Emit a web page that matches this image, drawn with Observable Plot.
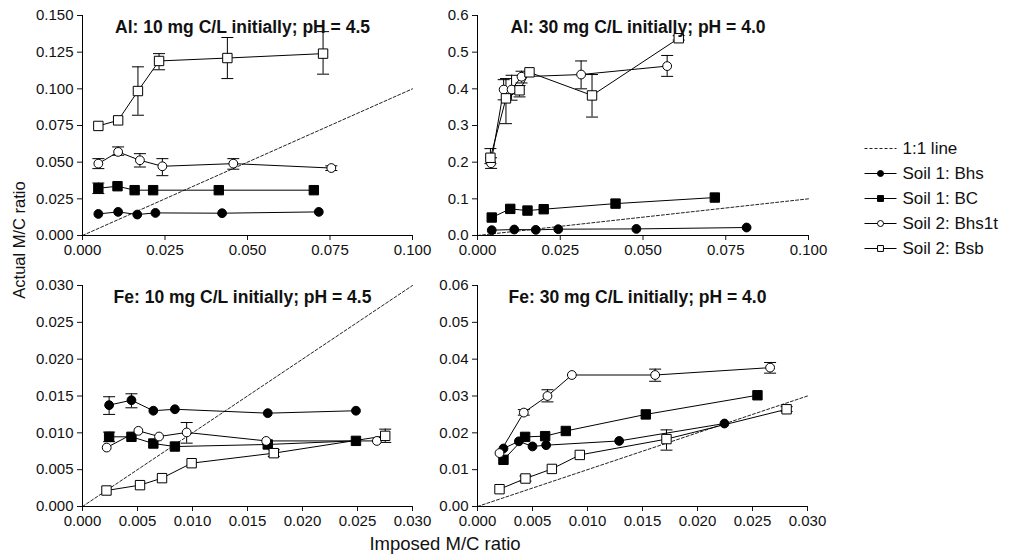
<!DOCTYPE html>
<html>
<head>
<meta charset="utf-8">
<script src="https://cdn.jsdelivr.net/npm/d3@7"></script>
<script src="https://cdn.jsdelivr.net/npm/@observablehq/plot@0.6"></script>
<style>
  body { margin: 0; background: white; }
  #root { position: relative; width: 1014px; height: 556px; font-family: "Liberation Sans", Arial, sans-serif; color: #111; }
  #root > svg { position: absolute; }
  .lab { position: absolute; white-space: nowrap; line-height: 1; }
</style>
</head>
<body>
<div id="root"></div>
<script>
// ---- Data: rows are [imposed M/C, actual M/C, error low, error high] ----
const seriesNames = ["Soil 1: Bhs", "Soil 1: BC", "Soil 2: Bhs1t", "Soil 2: Bsb"];
const seriesSymbols = ["circle", "square", "circle", "square"];
const seriesFills = ["black", "black", "white", "white"];
const legendLabels = ["1:1 line", ...seriesNames];

const titles = [
  "Al: 10 mg C/L initially; pH = 4.5",
  "Al: 30 mg C/L initially; pH = 4.0",
  "Fe: 10 mg C/L initially; pH = 4.5",
  "Fe: 30 mg C/L initially; pH = 4.0"
];

// Panel Al 10
const al10_bhs   = [[0.0048,0.0147],[0.0108,0.0161],[0.0166,0.0143],[0.0221,0.0154],[0.0423,0.0152],[0.0716,0.0161]];
const al10_bc    = [[0.0048,0.0322,0.0286,0.0358],[0.0106,0.0336],[0.0158,0.0309],[0.0214,0.0309],[0.0413,0.0309],[0.0701,0.0309]];
const al10_bhs1t = [[0.0048,0.049,0.0456,0.0524],[0.0108,0.057,0.0547,0.0604],[0.0174,0.0513,0.0467,0.0558],[0.0242,0.0472,0.0408,0.0524],[0.0457,0.049,0.0452,0.0524],[0.0754,0.046,0.0443,0.0475]];
const al10_bsb   = [[0.0048,0.0747],[0.0108,0.0785],[0.0168,0.0985,0.082,0.115],[0.0232,0.119,0.113,0.124],[0.0439,0.121,0.107,0.135],[0.0729,0.124,0.110,0.139]];

// Panel Al 30
const al30_bhs   = [[0.0043,0.0145],[0.0111,0.0163],[0.0176,0.0154],[0.0244,0.0172],[0.048,0.018],[0.0813,0.0218]];
const al30_bc    = [[0.0043,0.049],[0.0099,0.0726],[0.0151,0.068],[0.020,0.0717],[0.0417,0.087],[0.0717,0.1035]];
const al30_bhs1t = [[0.0041,0.197,0.183,0.212],[0.0079,0.398,0.370,0.425],[0.0103,0.398,0.369,0.437],[0.0133,0.433,0.416,0.448],[0.0313,0.439,0.400,0.476],[0.0573,0.462,0.434,0.491]];
const al30_bsb   = [[0.0039,0.212,0.196,0.237],[0.0086,0.374,0.305,0.428],[0.0127,0.396,0.378,0.409],[0.0157,0.445],[0.0346,0.382,0.323,0.439],[0.0608,0.538,0.533,0.545]];

// Panel Fe 10
const fe10_bhs   = [[0.00242,0.01376,0.0125,0.0149],[0.00445,0.01443,0.0134,0.0153],[0.00644,0.0130],[0.0084,0.0132],[0.01684,0.01267],[0.02486,0.0130]];
const fe10_bc    = [[0.00242,0.00946,0.0088,0.0101],[0.00445,0.00946],[0.00644,0.00855],[0.0084,0.00814],[0.01684,0.00842],[0.02486,0.00891]];
const fe10_bhs1t = [[0.0022,0.0080],[0.00508,0.01027],[0.00696,0.0095],[0.00947,0.01005,0.0086,0.0114],[0.0167,0.0089],[0.02676,0.0089]];
const fe10_bsb   = [[0.00218,0.00217],[0.00523,0.0029],[0.00723,0.00385],[0.00992,0.00588],[0.01739,0.00724,0.0068,0.0077],[0.02752,0.00959,0.0087,0.0105]];

// Panel Fe 30
const fe30_bhs   = [[0.00236,0.01575],[0.00376,0.0177],[0.005,0.0163],[0.00624,0.01665],[0.01288,0.0178],[0.02245,0.02253]];
const fe30_bc    = [[0.00236,0.01267],[0.00433,0.0189],[0.00615,0.0191],[0.00803,0.0205],[0.0153,0.025],[0.02545,0.0302]];
const fe30_bhs1t = [[0.0020,0.0145],[0.00421,0.0255,0.0248,0.0263],[0.00636,0.030,0.0284,0.0317],[0.00858,0.0357],[0.01615,0.0357,0.0340,0.0373],[0.0266,0.0377,0.0362,0.0391]];
const fe30_bsb   = [[0.0020,0.0047],[0.00436,0.0076,0.0069,0.0083],[0.00676,0.0102],[0.0093,0.014],[0.01718,0.0183,0.0153,0.0208],[0.0281,0.0264,0.0258,0.0271]];

// Axis ticks
const xTicksAl = [0, 0.025, 0.05, 0.075, 0.1];
const xTicksFe = [0, 0.005, 0.01, 0.015, 0.02, 0.025, 0.03];
const yTicksAl10 = [0, 0.025, 0.05, 0.075, 0.1, 0.125, 0.15];
const yTicksAl30 = [0, 0.1, 0.2, 0.3, 0.4, 0.5, 0.6];
const yTicksFe10 = [0, 0.005, 0.01, 0.015, 0.02, 0.025, 0.03];
const yTicksFe30 = [0, 0.01, 0.02, 0.03, 0.04, 0.05, 0.06];

// 1:1 line end points
const diagAl = [0, 0.1];
const diagFe = [0, 0.03];

// ---- Rendering ----
const FONT = '"Liberation Sans", Arial, sans-serif';
const capSymbol = { draw(ctx) { ctx.moveTo(-6, 0); ctx.lineTo(6, 0); } };
const DASH = "3,2";

function rowsOf(arr, name) {
  return arr.map(([x, y, lo, hi]) => ({ x, y, lo, hi, s: name }));
}

function panel(opts) {
  const marks = [];
  marks.push(Plot.line(opts.diag.map(v => ({ x: v, y: v })), { x: "x", y: "y", stroke: "#222", strokeWidth: 1, strokeDasharray: DASH }));
  opts.series.forEach((arr, i) => {
    const rows = rowsOf(arr, seriesNames[i]);
    const err = rows.filter(d => d.lo != null);
    marks.push(Plot.ruleX(err, { x: "x", y1: "lo", y2: "hi", stroke: "black", strokeWidth: 1 }));
    marks.push(Plot.dot(err, { x: "x", y: "lo", symbol: capSymbol, stroke: "black", fill: "none", strokeWidth: 1 }));
    marks.push(Plot.dot(err, { x: "x", y: "hi", symbol: capSymbol, stroke: "black", fill: "none", strokeWidth: 1 }));
    marks.push(Plot.line(rows, { x: "x", y: "y", stroke: "black", strokeWidth: 1 }));
  });
  opts.series.forEach((arr, i) => {
    const rows = rowsOf(arr, seriesNames[i]);
    marks.push(Plot.dot(rows, {
      x: "x", y: "y", symbol: seriesSymbols[i], fill: seriesFills[i], stroke: "black", strokeWidth: 1,
      r: seriesSymbols[i] === "square" ? 5.3 : 4.4
    }));
  });
  marks.push(Plot.ruleX([opts.xTicks[0]], { stroke: "black" }));
  marks.push(Plot.ruleY([opts.yTicks[0]], { stroke: "black" }));
  marks.push(Plot.text([opts.title], { frameAnchor: "top", dy: 5, dx: -5, fontWeight: "bold", fontSize: 17.5, fill: "#111", text: d => d }));

  const svg = Plot.plot({
    width: opts.width, height: opts.height,
    marginLeft: opts.ml, marginRight: opts.mr, marginTop: opts.mt, marginBottom: opts.mb,
    x: { domain: [opts.xTicks[0], opts.xTicks[opts.xTicks.length - 1]], ticks: opts.xTicks, tickFormat: opts.xFmt, tickSize: 5, label: null },
    y: { domain: [opts.yTicks[0], opts.yTicks[opts.yTicks.length - 1]], ticks: opts.yTicks, tickFormat: opts.yFmt, tickSize: 5, label: null },
    style: { background: "transparent", fontFamily: FONT, fontSize: "15px", color: "#111", overflow: "visible" },
    marks
  });
  svg.style.left = opts.left + "px";
  svg.style.top = opts.top + "px";
  return svg;
}

const root = document.getElementById("root");
const fmt3 = d3.format(".3f"), fmt1 = d3.format(".1f"), fmt2 = d3.format(".2f");

root.appendChild(panel({ title: titles[0], series: [al10_bhs, al10_bc, al10_bhs1t, al10_bsb], diag: diagAl,
  xTicks: xTicksAl, yTicks: yTicksAl10, xFmt: fmt3, yFmt: fmt3,
  left: 0, top: 0, width: 440, height: 265, ml: 82, mr: 28, mt: 15, mb: 30 }));
root.appendChild(panel({ title: titles[1], series: [al30_bhs, al30_bc, al30_bhs1t, al30_bsb], diag: diagAl,
  xTicks: xTicksAl, yTicks: yTicksAl30, xFmt: fmt3, yFmt: fmt1,
  left: 420, top: 0, width: 420, height: 265, ml: 57, mr: 32, mt: 15, mb: 30 }));
root.appendChild(panel({ title: titles[2], series: [fe10_bhs, fe10_bc, fe10_bhs1t, fe10_bsb], diag: diagFe,
  xTicks: xTicksFe, yTicks: yTicksFe10, xFmt: fmt3, yFmt: fmt3,
  left: 0, top: 250, width: 440, height: 290, ml: 82, mr: 28, mt: 35, mb: 34 }));
root.appendChild(panel({ title: titles[3], series: [fe30_bhs, fe30_bc, fe30_bhs1t, fe30_bsb], diag: diagFe,
  xTicks: xTicksFe, yTicks: yTicksFe30, xFmt: fmt3, yFmt: fmt2,
  left: 420, top: 250, width: 420, height: 290, ml: 57, mr: 33, mt: 35, mb: 34 }));

// Legend
const legendRows = legendLabels.map((label, i) => ({ label, i }));
const legend = Plot.plot({
  width: 170, height: 130, marginLeft: 0, marginRight: 0, marginTop: 0, marginBottom: 0,
  x: { domain: [0, 1], range: [9, 41], axis: null },
  y: { type: "point", domain: legendLabels, range: [13, 113], padding: 0, axis: null },
  style: { background: "transparent", fontFamily: FONT, fontSize: "17px", color: "#111", overflow: "visible" },
  marks: [
    Plot.link(legendRows.filter(d => d.i === 0), { x1: 0, x2: 1, y1: "label", y2: "label", stroke: "#222", strokeDasharray: DASH, strokeWidth: 1 }),
    Plot.link(legendRows.filter(d => d.i > 0), { x1: 0, x2: 1, y1: "label", y2: "label", stroke: "black", strokeWidth: 1 }),
    Plot.dot(legendRows.filter(d => d.i > 0), { x: 0.5, y: "label",
      symbol: d => seriesSymbols[d.i - 1], fill: d => seriesFills[d.i - 1], stroke: "black", strokeWidth: 1,
      r: d => seriesSymbols[d.i - 1] === "square" ? 3.3 : 2.7 }),
    Plot.text(legendRows, { x: 1, y: "label", text: "label", textAnchor: "start", dx: 6, fontSize: 17, fill: "#111" })
  ]
});
legend.style.left = "855px";
legend.style.top = "135px";
root.appendChild(legend);

// Axis titles
const yl = document.createElement("div");
yl.className = "lab";
yl.textContent = "Actual M/C ratio";
yl.style.fontSize = "16.5px";
yl.style.left = "19px"; yl.style.top = "240px";
yl.style.transform = "translate(-50%, -50%) rotate(-90deg)";
root.appendChild(yl);

const xl = document.createElement("div");
xl.className = "lab";
xl.textContent = "Imposed M/C ratio";
xl.style.fontSize = "18.5px";
xl.style.left = "445px"; xl.style.top = "544px";
xl.style.transform = "translate(-50%, -50%)";
root.appendChild(xl);
</script>
</body>
</html>
